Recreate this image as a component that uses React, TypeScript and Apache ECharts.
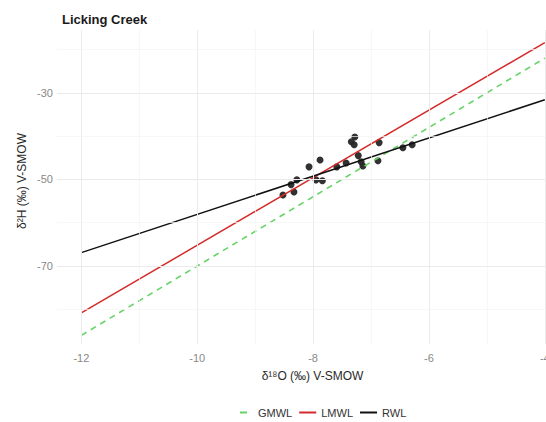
import React, { useEffect, useRef } from "react";
import * as echarts from "echarts";

// δ18O / δ2H samples, Licking Creek (‰ V-SMOW)
const sampleO18 = [
  -8.52, -8.33, -8.38, -8.28, -8.07, -7.88, -7.95, -7.84, -7.59, -7.43,
  -7.34, -7.28, -7.29, -7.22, -7.17, -7.14, -6.86, -6.88, -6.45, -6.29,
];
const sampleH2 = [
  -53.6, -52.9, -51.2, -50.1, -47.1, -45.5, -50.1, -50.3, -47.1, -46.2,
  -41.3, -40.2, -42.0, -44.5, -45.9, -46.9, -41.5, -45.7, -42.7, -42.0,
];

// Meteoric water lines, end points [δ18O, δ2H]
const gmwlLine = [
  [-12, -86.0],
  [-4, -22.0],
];
const lmwlLine = [
  [-12, -80.8],
  [-4, -18.4],
];
const rwlLine = [
  [-12, -66.9],
  [-4, -31.6],
];

const lineNames = ["GMWL", "LMWL", "RWL"];

// Axis breaks
const xLabelTicks = [-12, -10, -8, -6, -4];
const xMinorTicks = [-11, -9, -7, -5];
const yLabelTicks = [-30, -50, -70];
const yMinorTicks = [-20, -40, -60, -80];

const FONT = "'Liberation Sans', Arial, Helvetica, sans-serif";

export default function App() {
  const ref = useRef<HTMLDivElement>(null);

  useEffect(() => {
    document.body.style.margin = "0";
    if (!ref.current) return;
    const chart = echarts.init(ref.current, undefined, { renderer: "svg" });

    const major = { color: "#ebebeb", width: 1, type: "solid" as const };
    const minor = { color: "#f4f4f4", width: 0.7, type: "solid" as const };

    const gridMarks = [
      ...xLabelTicks.map((v) => ({ xAxis: v, lineStyle: major })),
      ...xMinorTicks.map((v) => ({ xAxis: v, lineStyle: minor })),
      ...yLabelTicks.map((v) => ({ yAxis: v, lineStyle: major })),
      ...yMinorTicks.map((v) => ({ yAxis: v, lineStyle: minor })),
    ];

    const points = sampleO18.map((x, i) => [x, sampleH2[i]]);

    chart.setOption({
      animation: false,
      backgroundColor: "#ffffff",
      title: {
        text: "Licking Creek",
        left: 57,
        top: 8,
        textStyle: {
          fontFamily: FONT,
          fontSize: 13,
          fontWeight: "bold",
          color: "#1a1a1a",
        },
      },
      grid: { left: 57, top: 30, width: 511, height: 314 },
      xAxis: {
        type: "value",
        min: -12.42,
        max: -3.6,
        axisLine: { show: false },
        axisTick: { show: false },
        splitLine: { show: false },
        axisLabel: {
          customValues: xLabelTicks,
          color: "#888888",
          fontFamily: FONT,
          fontSize: 11,
          margin: 8,
        },
        name: "δ¹⁸O (‰) V-SMOW",
        nameLocation: "middle",
        nameGap: 26,
        nameTextStyle: { fontFamily: FONT, fontSize: 12, color: "#2a2a2a" },
      },
      yAxis: {
        type: "value",
        min: -88,
        max: -15.5,
        axisLine: { show: false },
        axisTick: { show: false },
        splitLine: { show: false },
        axisLabel: {
          customValues: yLabelTicks,
          color: "#888888",
          fontFamily: FONT,
          fontSize: 11,
          margin: 4,
        },
      },
      graphic: [
        {
          type: "text",
          x: 22,
          y: 181,
          rotation: Math.PI / 2,
          style: {
            text: "δ²H (‰) V-SMOW",
            fontFamily: FONT,
            fontSize: 12,
            fill: "#2a2a2a",
            align: "center",
            verticalAlign: "middle",
          },
        },
      ],
      legend: {
        left: 231,
        top: 402,
        orient: "horizontal",
        itemWidth: 17,
        itemHeight: 2,
        itemGap: 7,
        selectedMode: false,
        textStyle: { fontFamily: FONT, fontSize: 11, color: "#333333" },
        data: [
          {
            name: lineNames[0],
            icon: "path://M0,0h0.01v0.01h-0.01z M4,0h7v2h-7z M16.99,1.99h0.01v0.01h-0.01z",
            itemStyle: { color: "#66d466", borderWidth: 0 },
          },
          {
            name: lineNames[1],
            icon: "rect",
            itemStyle: { color: "#d42a2a", borderWidth: 0 },
          },
          {
            name: lineNames[2],
            icon: "rect",
            itemStyle: { color: "#111111", borderWidth: 0 },
          },
        ],
      },
      series: [
        {
          type: "line",
          data: [],
          silent: true,
          z: 0,
          markLine: {
            silent: true,
            symbol: "none",
            label: { show: false },
            animation: false,
            data: gridMarks,
          },
        },
        {
          type: "scatter",
          name: "samples",
          data: points,
          symbol: "circle",
          symbolSize: 7,
          itemStyle: { color: "#262626", opacity: 0.95 },
          z: 2,
        },
        {
          type: "line",
          name: lineNames[0],
          data: gmwlLine,
          showSymbol: false,
          symbol: "none",
          lineStyle: { color: "#66d466", width: 1.6, type: [6, 5] },
          itemStyle: { color: "#66d466" },
          z: 3,
        },
        {
          type: "line",
          name: lineNames[1],
          data: lmwlLine,
          showSymbol: false,
          symbol: "none",
          lineStyle: { color: "#d42a2a", width: 1.5 },
          itemStyle: { color: "#d42a2a" },
          z: 3,
        },
        {
          type: "line",
          name: lineNames[2],
          data: rwlLine,
          showSymbol: false,
          symbol: "none",
          lineStyle: { color: "#111111", width: 1.5 },
          itemStyle: { color: "#111111" },
          z: 3,
        },
      ],
    });

    return () => chart.dispose();
  }, []);

  return (
    <div style={{ width: 546, height: 422, overflow: "hidden" }}>
      <div ref={ref} style={{ width: 580, height: 422 }} />
    </div>
  );
}
